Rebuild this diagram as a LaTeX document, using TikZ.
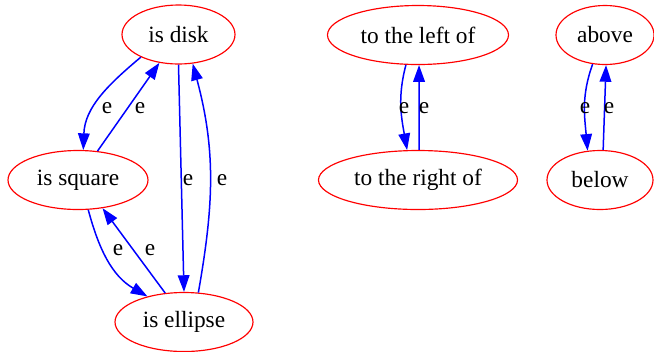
\documentclass[tikz,border=0pt]{standalone}
\usepackage{fontspec}
\setmainfont{Liberation Serif}
\usetikzlibrary{shapes.geometric,arrows.meta}

\begin{document}
\begin{tikzpicture}[
x=0.6pt, y=-0.6pt,
font=\fontsize{14}{16}\selectfont,
relnode/.style={ellipse, draw=red, line width=0.7pt, inner sep=0pt, minimum height=35.4pt},
reledge/.style={draw=blue, line width=0.9pt, -{Triangle[length=10pt,width=7pt]}},
elabel/.style={inner sep=0pt}
]

\useasboundingbox (0,0) rectangle (654,351);

%%%%%%%%%%%%%%%%%%%%%%%%%%%%%%%%%%%%%%%%%%%%%%%%%%%%%%
% SHAPE NODES
%%%%%%%%%%%%%%%%%%%%%%%%%%%%%%%%%%%%%%%%%%%%%%%%%%%%%%

\node[relnode, minimum width=67.8pt] (disk) at (178.5,34.5) {is disk};
\node[relnode, minimum width=84pt] (square) at (78,180) {is square};
\node[relnode, minimum width=82.8pt] (ellipse) at (184,322) {is ellipse};

%%%%%%%%%%%%%%%%%%%%%%%%%%%%%%%%%%%%%%%%%%%%%%%%%%%%%%
% POSITION NODES
%%%%%%%%%%%%%%%%%%%%%%%%%%%%%%%%%%%%%%%%%%%%%%%%%%%%%%

\node[relnode, minimum width=108.6pt] (leftof) at (418,35) {to the left of};
\node[relnode, minimum width=119.4pt] (rightof) at (418,180) {to the right of};
\node[relnode, minimum width=58.8pt] (above) at (605,35) {above};
\node[relnode, minimum width=63.6pt] (below) at (600,180) {below};

%%%%%%%%%%%%%%%%%%%%%%%%%%%%%%%%%%%%%%%%%%%%%%%%%%%%%%
% SHAPE EDGES
%%%%%%%%%%%%%%%%%%%%%%%%%%%%%%%%%%%%%%%%%%%%%%%%%%%%%%

\draw[reledge] (disk.211) to[out=220,in=88] (square.80);
\draw[reledge] (square.56) -- (disk.236);
\draw[reledge] (disk.270) -- (ellipse.90);
\draw[reledge] (ellipse.64) to[out=80,in=285] (disk.296);
\draw[reledge] (square.289) to[out=285,in=150] (ellipse.145);
\draw[reledge] (ellipse.123) -- (square.311);

\node[elabel] (l1) at (107,108) {e};
\node[elabel] (l2) at (140,108) {e};
\node[elabel] (l3) at (188,180) {e};
\node[elabel] (l4) at (222,180) {e};
\node[elabel] (l5) at (118,250) {e};
\node[elabel] (l6) at (150,250) {e};

%%%%%%%%%%%%%%%%%%%%%%%%%%%%%%%%%%%%%%%%%%%%%%%%%%%%%%
% POSITION EDGES
%%%%%%%%%%%%%%%%%%%%%%%%%%%%%%%%%%%%%%%%%%%%%%%%%%%%%%

\draw[reledge] (leftof.248) to[out=255,in=100] (rightof.110);
\draw[reledge] (rightof.88) -- (leftof.272);
\draw[reledge] (above.247) to[out=250,in=95] (below.113);
\draw[reledge] (below.84) -- (above.272);

\node[elabel] (l7) at (404,108) {e};
\node[elabel] (l8) at (424,108) {e};
\node[elabel] (l9) at (585,108) {e};
\node[elabel] (l10) at (609,108) {e};

\end{tikzpicture}
\end{document}
